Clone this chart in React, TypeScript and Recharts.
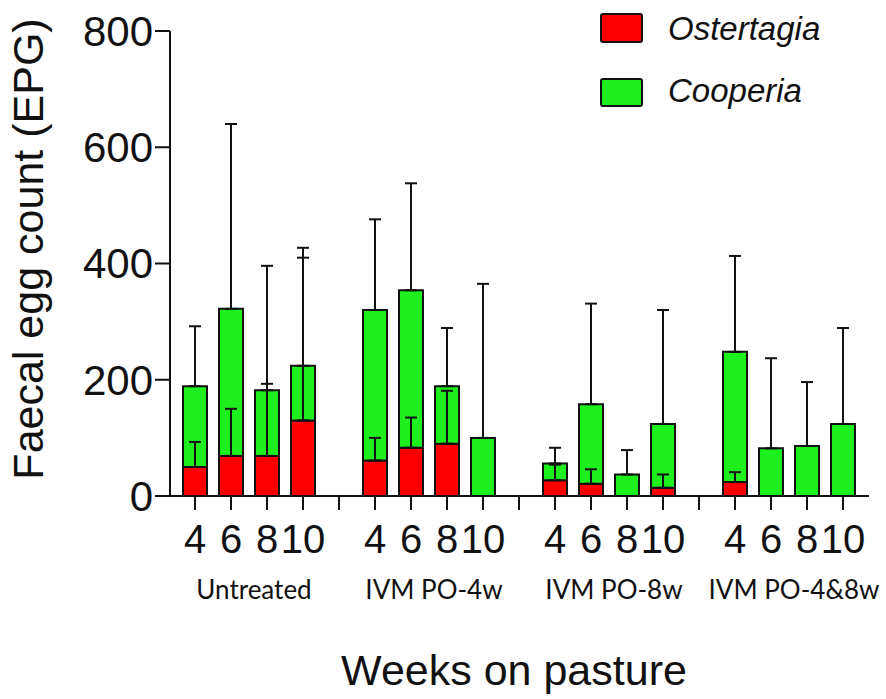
import React from "react";
import { BarChart, Bar, XAxis, YAxis, ErrorBar, Legend } from "recharts";

const groups = ["Untreated", "IVM PO-4w", "IVM PO-8w", "IVM PO-4&8w"];
const weeks = ["4", "6", "8", "10"];

// mean EPG per group, in week order 4, 6, 8, 10
const ostertagia = [
  [50, 69, 69, 130],
  [61, 83, 90, 0],
  [27, 21, 0, 14],
  [24, 0, 0, 0],
];
const cooperia = [
  [139, 253, 113, 94],
  [259, 271, 99, 100],
  [29, 137, 37, 110],
  [224, 82, 86, 124],
];
// upper error (SD) above each segment top
const ostertagiaErr = [
  [43, 81, 124, 280],
  [39, 52, 91, 0],
  [27, 25, 0, 23],
  [17, 0, 0, 0],
];
const cooperiaErr = [
  [103, 318, 214, 203],
  [156, 184, 100, 265],
  [27, 173, 42, 196],
  [165, 155, 110, 165],
];

const yTicks = [0, 200, 400, 600, 800];

const RED = "#ff0000";
const GREEN = "#1ef01e";
const ARIAL = "'Liberation Sans', Arial, sans-serif";

type Row = {
  key: string;
  week: string;
  group?: string;
  ost?: number | null;
  coop?: number | null;
  ostErr?: number[];
  coopErr?: number[];
};

const rows: Row[] = [];
groups.forEach((g, gi) => {
  if (gi > 0) rows.push({ key: "gap" + gi, week: "", ost: null, coop: null });
  weeks.forEach((w, wi) => {
    rows.push({
      key: g + "-" + w,
      week: w,
      group: wi === 1 ? g : undefined,
      ost: ostertagia[gi][wi],
      coop: cooperia[gi][wi],
      ostErr: ostertagiaErr[gi][wi] > 0 ? [0, ostertagiaErr[gi][wi]] : undefined,
      coopErr: [0, cooperiaErr[gi][wi]],
    });
  });
});

const WeekTick = (props: any) => {
  const { x, y, payload } = props;
  const row = rows.find((r) => r.key === payload.value);
  if (!row) return null;
  return (
    <g>
      <text x={x} y={y + 43} textAnchor="middle" fontSize={40} fontFamily={ARIAL} fill="#111">
        {row.week}
      </text>
      {row.group && (
        <text x={x + 23} y={y + 89} textAnchor="middle" fontSize={26} fontFamily="Lato" fill="#111">
          {row.group}
        </text>
      )}
    </g>
  );
};

const LegendBox = () => (
  <svg width={290} height={120}>
    <rect x={11} y={14} width={41} height={28} fill={RED} stroke="#111" strokeWidth={2} rx={2} />
    <text x={78} y={40} fontSize={33} fontStyle="italic" fontFamily={ARIAL} fill="#111">
      Ostertagia
    </text>
    <rect x={11} y={79} width={41} height={27} fill={GREEN} stroke="#111" strokeWidth={2} rx={2} />
    <text x={78} y={102} fontSize={33} fontStyle="italic" fontFamily={ARIAL} fill="#111">
      Cooperia
    </text>
  </svg>
);

export default function App() {
  return (
    <div style={{ position: "absolute", left: 0, top: 0, width: 886, height: 699, background: "#fff" }}>
      <BarChart
        width={886}
        height={699}
        data={rows}
        margin={{ top: 31, right: 17, bottom: 0, left: 0 }}
        barCategoryGap={0}
      >
        <XAxis
          dataKey="key"
          height={203}
          interval={0}
          tickSize={14}
          tickMargin={0}
          padding={{ left: 7, right: 8 }}
          axisLine={{ stroke: "#111", strokeWidth: 2 }}
          tickLine={{ stroke: "#111", strokeWidth: 2 }}
          tick={<WeekTick />}
          label={{
            content: () => (
              <text x={514} y={685} textAnchor="middle" fontSize={43} fontFamily={ARIAL} fill="#111">
                Weeks on pasture
              </text>
            ),
          }}
        />
        <XAxis xAxisId="over" dataKey="key" hide padding={{ left: 7, right: 8 }} />
        <YAxis
          width={170}
          domain={[0, 800]}
          ticks={yTicks}
          tickSize={15}
          tickMargin={2}
          axisLine={{ stroke: "#111", strokeWidth: 2 }}
          tickLine={{ stroke: "#111", strokeWidth: 2 }}
          tick={{ fontSize: 42, fontFamily: ARIAL, fill: "#111" }}
          label={{
            content: () => (
              <text
                transform="translate(43, 249) rotate(-90)"
                textAnchor="middle"
                fontSize={43}
                fontFamily={ARIAL}
                fill="#111"
              >
                Faecal egg count (EPG)
              </text>
            ),
          }}
        />
        <Legend
          layout="horizontal"
          verticalAlign="middle"
          align="center"
          width={290}
          height={120}
          wrapperStyle={{ top: 0, left: 590 }}
          content={() => <LegendBox />}
        />
        <Bar
          dataKey="ost"
          stackId="a"
          fill={RED}
          stroke="#111"
          strokeWidth={2}
          barSize={24}
          isAnimationActive={false}
        />
        <Bar
          dataKey="coop"
          stackId="a"
          fill={GREEN}
          stroke="#111"
          strokeWidth={2}
          barSize={24}
          isAnimationActive={false}
        >
          <ErrorBar dataKey="coopErr" width={6} stroke="#111" strokeWidth={2} direction="y" />
        </Bar>
        <Bar
          xAxisId="over"
          dataKey="ost"
          fill="transparent"
          barSize={24}
          legendType="none"
          isAnimationActive={false}
        >
          <ErrorBar dataKey="ostErr" width={6} stroke="#111" strokeWidth={2} direction="y" />
        </Bar>
      </BarChart>
    </div>
  );
}
